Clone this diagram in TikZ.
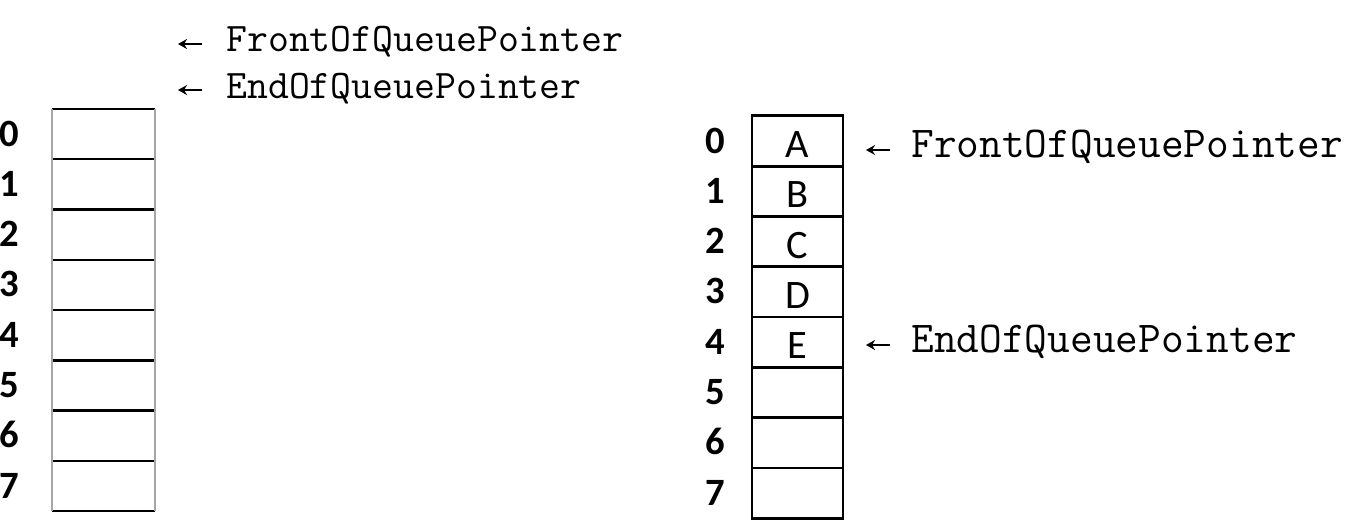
\documentclass[tikz,border=0pt]{standalone}
\usepackage{fontspec}
\setmainfont{Carlito}
\usetikzlibrary{positioning,arrows.meta}

\tikzset{
  lcell/.style={minimum width=2.06cm, minimum height=1.006cm, inner sep=0pt, outer sep=0pt},
  rcell/.style={draw, line width=1.6pt, minimum width=1.82cm, minimum height=1.006cm, inner sep=0pt, outer sep=0pt,
    font=\fontsize{23}{25}\selectfont, text height=0.66cm, text depth=0pt},
  idx/.style={font=\fontsize{22}{24}\selectfont\bfseries, inner sep=0pt, text height=0.44cm, text depth=0pt},
  hline/.style={line width=1.4pt},
  vline/.style={line width=1.1pt, gray!70},
  ptrtxt/.style={anchor=west, inner sep=0pt, text height=0.4cm, text depth=0pt},
  ptr/.style={-{Stealth[length=0.18cm,width=0.2cm]}, line width=1.2pt}
}

\begin{document}
\begin{tikzpicture}[x=0.02cm,y=-0.02cm]
  \useasboundingbox (0,0) rectangle (1365,531);

  % empty queue
  \foreach \i in {0,...,7}{
    \node[lcell] (L\i) at (103.5,134+50.3*\i) {};
    \node[idx] (nl\i) at (9,135+50.3*\i) {\i};
    \draw[hline] (L\i.north west) -- (L\i.north east);
  }
  \draw[hline] (L7.south west) -- (L7.south east);
  \draw[vline] (L0.north west) -- (L7.south west);
  \draw[vline] (L0.north east) -- (L7.south east);

  \node[ptrtxt, font=\fontsize{23.1}{25}\selectfont\ttfamily] (lf) at (226,42) {FrontOfQueuePointer};
  \node[ptrtxt, font=\fontsize{23.1}{25}\selectfont\ttfamily] (le) at (226,88) {EndOfQueuePointer};
  \coordinate (lfa) at (178,44);
  \coordinate (lea) at (178,90);
  \draw[ptr, shorten <=0.48cm] (lf.west |- lfa) -- (lfa);
  \draw[ptr, shorten <=0.48cm] (le.west |- lea) -- (lea);

  % queue with five items
  \foreach \i/\v in {0/A,1/B,2/C,3/D,4/E,5/{},6/{},7/{}}{
    \node[rcell] (R\i) at (797.5,141+50.3*\i) {\v};
    \node[idx] (nr\i) at (715,142+50.3*\i) {\i};
  }

  \node[ptrtxt, font=\fontsize{25.1}{27}\selectfont\ttfamily] (rf) at (911,147) {FrontOfQueuePointer};
  \node[ptrtxt, font=\fontsize{25.1}{27}\selectfont\ttfamily] (re) at (911,342) {EndOfQueuePointer};
  \coordinate (rfa) at (866,150);
  \coordinate (rea) at (866,345);
  \draw[ptr, shorten <=0.42cm] (rf.west |- rfa) -- (rfa);
  \draw[ptr, shorten <=0.42cm] (re.west |- rea) -- (rea);
\end{tikzpicture}
\end{document}
